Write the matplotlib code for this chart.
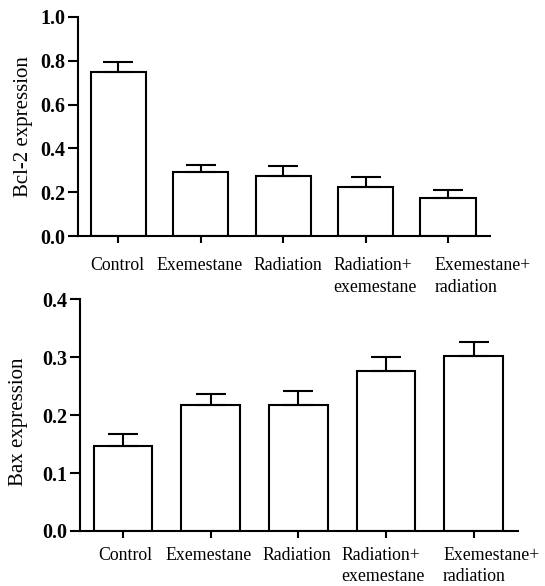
import matplotlib
matplotlib.use('Agg')
import matplotlib.pyplot as plt

plt.rcParams['font.family'] = ['Liberation Serif', 'DejaVu Serif']

groups = ['Control', 'Exemestane', 'Radiation', 'Radiation+\nexemestane', 'Exemestane+\nradiation']

bcl2_mean = [0.750, 0.292, 0.275, 0.224, 0.172]
bcl2_err = [0.043, 0.032, 0.046, 0.045, 0.039]

bax_mean = [0.147, 0.217, 0.217, 0.277, 0.302]
bax_err = [0.020, 0.020, 0.024, 0.023, 0.025]

bcl2_ticks = [0.0, 0.2, 0.4, 0.6, 0.8, 1.0]
bax_ticks = [0.0, 0.1, 0.2, 0.3, 0.4]


def draw_panel(fig, rect, means, errs, ticks, ylabel, label_dx, label_dy, ylabel_pos):
    ax = fig.add_axes(rect)
    x = list(range(len(means)))
    ax.bar(x, means, width=0.67, color='white', edgecolor='black', linewidth=1.5, zorder=2)
    ax.errorbar(x, means, yerr=[[0] * len(errs), errs], fmt='none', ecolor='black',
                elinewidth=1.5, capsize=10.5, capthick=1.5, zorder=3)
    ax.set_xlim(-0.49, 4.51)
    ax.set_ylim(ticks[0], ticks[-1])
    ax.set_yticks(ticks)
    ax.set_yticklabels([f'{t:.1f}' for t in ticks], fontsize=14.5, fontweight='bold')
    ax.set_xticks(x)
    ax.set_xticklabels([])
    # group names placed by hand: the original has them nudged off the ticks
    for xi, name, dx in zip(x, groups, label_dx):
        ax.annotate(name, xy=(xi, 0), xycoords=('data', 'axes fraction'),
                    xytext=(dx * 0.72, label_dy * 0.72), textcoords='offset points',
                    ha='center', va='top', multialignment='left', fontsize=12.8,
                    linespacing=1.35, annotation_clip=False)
    ax.set_ylabel(ylabel, fontsize=15)
    ax.yaxis.set_label_coords(*ylabel_pos)
    ax.spines['top'].set_visible(False)
    ax.spines['right'].set_visible(False)
    ax.spines['left'].set_linewidth(1.5)
    ax.spines['bottom'].set_linewidth(1.5)
    ax.tick_params(axis='y', length=7, width=1.5, direction='out', pad=2)
    ax.tick_params(axis='x', length=5, width=1.5, direction='out')
    return ax


fig = plt.figure(figsize=(5.45, 5.86), dpi=100)
draw_panel(fig, [0.143, 0.597, 0.756, 0.374], bcl2_mean, bcl2_err, bcl2_ticks,
           'Bcl-2 expression', [-1.5, -1, 4.5, 9.5, 34.5], -21, (-0.11, 0.5))
draw_panel(fig, [0.147, 0.094, 0.804, 0.395], bax_mean, bax_err, bax_ticks,
           'Bax expression', [2, -2, -1.5, -3, 17.5], -16, (-0.118, 0.47))

fig.savefig('out.png', dpi=100)
plt.close(fig)
